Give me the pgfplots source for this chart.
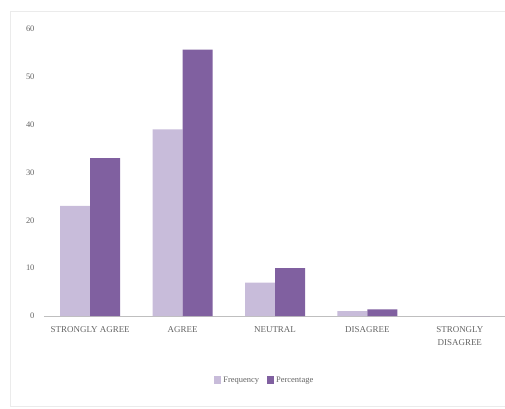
\documentclass[border=0pt]{standalone}
\usepackage{pgfplots}
\pgfplotsset{compat=1.18}
\usepackage{fontspec}
\setmainfont{Liberation Serif}
\definecolor{freq}{RGB}{200,188,218}
\definecolor{perc}{RGB}{128,96,160}
\definecolor{tick}{RGB}{100,100,100}
\begin{document}
\begin{tikzpicture}[x=1bp,y=1bp]
\useasboundingbox (-44,-92) rectangle (461,316);
\draw[black!8] (465,305) -- (-34,305) -- (-34,-90) -- (465,-90);
\begin{axis}[
  at={(0,0)}, anchor=south west,
  scale only axis, width=462bp, height=287bp,
  ybar=0pt, bar width=30bp,
  xmin=-0.5, xmax=4.5, ymin=0, ymax=60,
  xtick=data,
  xticklabels={STRONGLY AGREE, AGREE, NEUTRAL, DISAGREE, {STRONGLY\\DISAGREE}},
  xticklabel style={align=center, font=\fontsize{9}{13}\selectfont, text=tick, yshift=-7bp},
  ytick={0,10,...,60},
  yticklabel style={font=\fontsize{8.5}{9}\selectfont, text=tick, xshift=-6bp},
  /pgf/number format/assume math mode=true,
  axis x line*=bottom, axis y line*=left,
  y axis line style={draw=none},
  x axis line style={black!25, -},
  major tick length=0pt,
  tick style={draw=none},
  legend style={at={(0.478,-0.223)}, anchor=center, draw=none, legend columns=2,
    font=\fontsize{8.5}{9}\selectfont, text=tick,
    /tikz/every even column/.append style={column sep=6bp}},
  legend image code/.code={\fill[#1] (0bp,-4bp) rectangle (7bp,4bp);},
]
\addplot[fill=freq, draw=none] coordinates {(0,23) (1,39) (2,7) (3,1) (4,0)};
\addplot[fill=perc, draw=none] coordinates {(0,33) (1,55.7) (2,10) (3,1.4) (4,0)};
\legend{Frequency, Percentage}
\end{axis}
\end{tikzpicture}
\end{document}
